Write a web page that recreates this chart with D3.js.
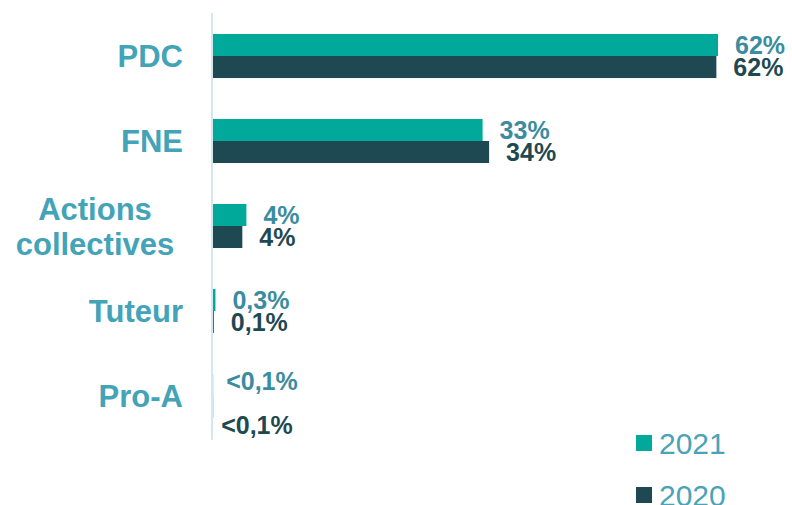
<!DOCTYPE html>
<html>
<head>
<meta charset="utf-8">
<script src="https://cdn.jsdelivr.net/npm/d3@7"></script>
<style>
  html, body { margin: 0; padding: 0; background: #fff; }
  svg { display: block; font-family: Arial, 'Liberation Sans', sans-serif; }
</style>
</head>
<body>
<div id="chart"></div>
<script>
// Data
const categories = ['PDC', 'FNE', 'Actions\ncollectives', 'Tuteur', 'Pro-A'];
const years = ['2021', '2020'];
const values2021 = [62, 33.1, 4.1, 0.3, 0.02];
const values2020 = [61.8, 33.9, 3.6, 0.1, 0.02];
const labels2021 = ['62%', '33%', '4%', '0,3%', '<0,1%'];
const labels2020 = ['62%', '34%', '4%', '0,1%', '<0,1%'];

const width = 792;
const height = 505;

const barColors = { '2021': '#00a99a', '2020': '#1f4952' };
const labelColors = { '2021': '#3a8c9e', '2020': '#1f4952' };
const catColor = '#43a3b7';

const rows = categories.map((c, i) => ({
  cat: c,
  bars: [
    { year: '2021', value: values2021[i], label: labels2021[i], cat: c },
    { year: '2020', value: values2020[i], label: labels2020[i], cat: c },
  ],
}));

const x = d3.scaleLinear().domain([0, 62]).range([213, 718]);
const y = d3.scaleBand().domain(categories).range([34, 418]).paddingInner(0.482).paddingOuter(0);
const y1 = d3.scaleBand().domain(years).range([0, y.bandwidth()]);

const svg = d3.create('svg')
  .attr('width', width)
  .attr('height', height)
  .attr('viewBox', [0, 0, width, height]);

// vertical axis line
svg.append('line')
  .attr('x1', 212).attr('x2', 212)
  .attr('y1', 13).attr('y2', 440)
  .attr('stroke', '#d3e8ee')
  .attr('stroke-width', 2);

// category labels
const gCats = svg.append('g')
  .attr('font-weight', 'bold')
  .attr('font-size', 31)
  .attr('fill', catColor);

categories.forEach(c => {
  const lines = c.split('\n');
  const cy = y(c) + y.bandwidth() / 2;
  const multi = lines.length > 1;
  const t = gCats.append('text')
    .attr('text-anchor', multi ? 'middle' : 'end')
    .attr('x', multi ? 95 : 183)
    .attr('y', cy + 11 - (lines.length - 1) * 17.5);
  lines.forEach((l, i) => {
    t.append('tspan')
      .attr('x', multi ? 95 : 183)
      .attr('dy', i === 0 ? 0 : 35)
      .text(l);
  });
});

const gRows = svg.append('g')
  .selectAll('g')
  .data(rows)
  .join('g')
  .attr('transform', d => `translate(0,${y(d.cat)})`);

gRows.selectAll('rect')
  .data(d => d.bars)
  .join('rect')
  .attr('x', x(0))
  .attr('y', d => y1(d.year))
  .attr('width', d => x(d.value) - x(0))
  .attr('height', y1.bandwidth())
  .attr('fill', d => barColors[d.year]);

// the tiny Pro-A labels were moved by hand in the original
const nudge = { 'Pro-A': { '2021': [-4, -4], '2020': [-9, 18] } };

gRows.selectAll('text')
  .data(d => d.bars)
  .join('text')
  .attr('x', d => x(d.value) + 17 + ((nudge[d.cat] || {})[d.year] || [0, 0])[0])
  .attr('y', d => y1(d.year) + y1.bandwidth() / 2 + 9 + ((nudge[d.cat] || {})[d.year] || [0, 0])[1])
  .attr('font-size', 25)
  .attr('font-weight', 'bold')
  .attr('fill', d => labelColors[d.year])
  .text(d => d.label);

// legend
const legend = svg.append('g')
  .selectAll('g')
  .data(years)
  .join('g')
  .attr('transform', (d, i) => `translate(636,${435 + i * 52})`);

legend.append('rect')
  .attr('width', 16)
  .attr('height', 16)
  .attr('fill', d => barColors[d]);

legend.append('text')
  .attr('x', 23)
  .attr('y', 19)
  .attr('font-size', 30)
  .attr('fill', '#4aa3b6')
  .text(d => d);

d3.select('#chart').node().append(svg.node());
</script>
</body>
</html>
